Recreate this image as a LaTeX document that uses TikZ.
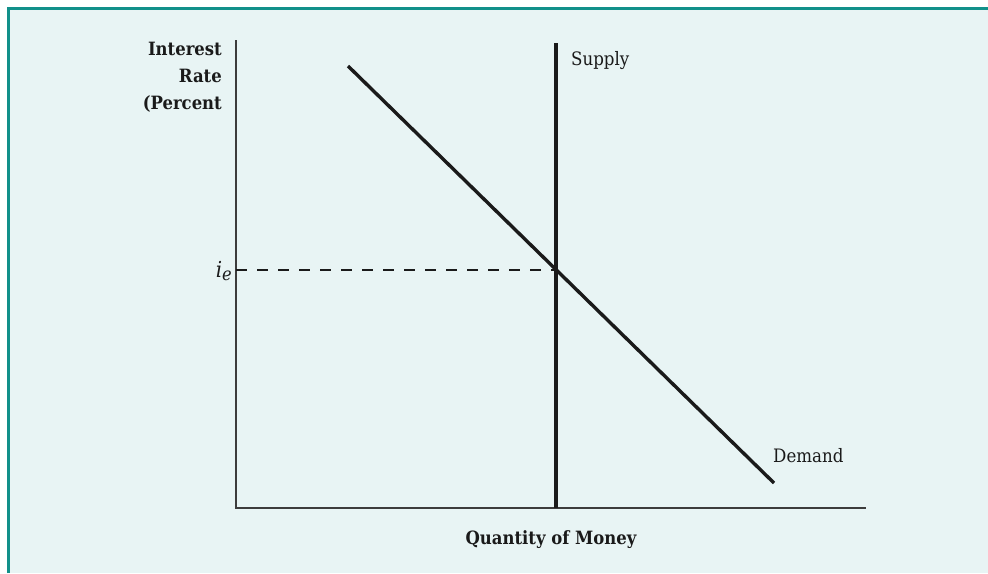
\documentclass[tikz,border=0pt]{standalone}
\usepackage{fontspec}
\setmainfont{DejaVu Serif Condensed}
\definecolor{bgc}{HTML}{E8F4F4}
\definecolor{teal}{HTML}{12908A}
\definecolor{ink}{HTML}{1A1A1A}
\begin{document}
\begin{tikzpicture}[x=1pt,y=-1pt,
  curve/.style={draw=ink,line width=3.4pt},
  axis/.style={draw=ink!85,line width=1.4pt},
  lbl/.style={font=\fontsize{18.5}{18.5}\selectfont,text=ink,inner sep=0pt},
  blbl/.style={font=\fontsize{18.3}{27}\selectfont\bfseries,text=ink,inner sep=0pt}]
\useasboundingbox (0,0) rectangle (988,573);
\fill[white] (0,0) rectangle (988,573);
\fill[bgc] (8.5,8.5) rectangle (988,573);
\draw[teal,line width=3pt] (8.5,573) -- (8.5,8.5) -- (988,8.5);
% axes
\coordinate (O) at (236,508);
\coordinate (ytop) at (236,40);
\coordinate (xend) at (866,508);
\draw[axis] (ytop) -- (O) -- (xend);
% supply
\coordinate (s1) at (556,43);
\coordinate (s2) at (556,508);
\draw[curve] (s1) -- (s2);
% demand
\coordinate (d1) at (348,66);
\coordinate (d2) at (774,483);
\draw[curve] (d1) -- (d2);
% equilibrium
\coordinate (E) at (556,270);
\coordinate (Ey) at (236,270);
\draw[ink,line width=1.2pt,dash pattern=on 11pt off 10pt] (Ey) -- (E);
% labels
\node[lbl,anchor=base east] (ie) at (232,277) {\fontsize{22}{22}\selectfont\textit{i}\raisebox{-0.3ex}{\fontsize{18}{18}\selectfont\textit{e}}};
\node[lbl,anchor=base west] (sup) at (571,65) {Supply};
\node[lbl,anchor=base west] (dem) at (773,462) {Demand};
\node[blbl,anchor=north east,align=right] (ylab) at (222,42) {Interest\\Rate\\(Percent};
\node[blbl,anchor=base] (xlab) at (551,544) {Quantity of Money};
\end{tikzpicture}
\end{document}
